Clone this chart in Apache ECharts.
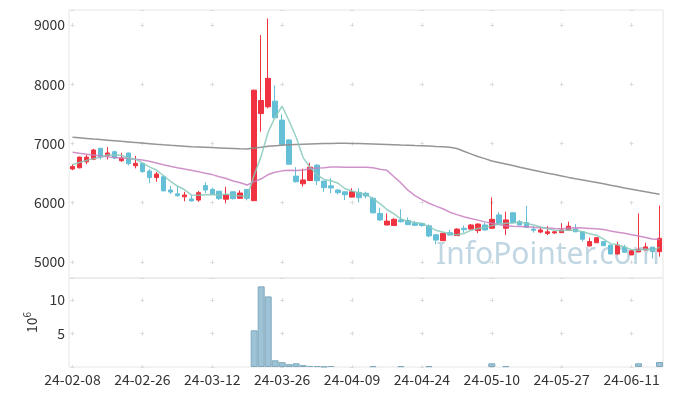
<!DOCTYPE html>
<html><head><meta charset="utf-8">
<script src="https://cdn.jsdelivr.net/npm/echarts@6/dist/echarts.min.js"></script>
<style>html,body{margin:0;padding:0;background:#fff}#c{width:673px;height:396px}</style>
</head><body><div id="c"></div><script>
const dates = ["24-02-08","24-02-13","24-02-14","24-02-15","24-02-16","24-02-19","24-02-20","24-02-21","24-02-22","24-02-23","24-02-26","24-02-27","24-02-28","24-02-29",
"24-03-04","24-03-05","24-03-06","24-03-07","24-03-08","24-03-11","24-03-12","24-03-13","24-03-14","24-03-15","24-03-18","24-03-19","24-03-20","24-03-21","24-03-22","24-03-25","24-03-26","24-03-27","24-03-28","24-03-29",
"24-04-01","24-04-02","24-04-03","24-04-04","24-04-05","24-04-08","24-04-09","24-04-11","24-04-12","24-04-15","24-04-16","24-04-17","24-04-18","24-04-19","24-04-22","24-04-23","24-04-24","24-04-25","24-04-26","24-04-29","24-04-30",
"24-05-02","24-05-03","24-05-07","24-05-08","24-05-09","24-05-10","24-05-13","24-05-14","24-05-16","24-05-17","24-05-20","24-05-21","24-05-22","24-05-23","24-05-24","24-05-27","24-05-28","24-05-29","24-05-30","24-05-31",
"24-06-03","24-06-04","24-06-05","24-06-07","24-06-10","24-06-11","24-06-12","24-06-13","24-06-14","24-06-17"];
const opens  = [6570,6590,6690,6735,6920,6795,6860,6710,6840,6625,6665,6535,6425,6440,6215,6150,6100,6065,6045,6290,6225,6195,6060,6185,6075,6225,6035,7505,7620,7715,7395,7060,6450,6320,6375,6635,6365,6285,6215,6185,6095,6175,6160,6075,5820,5625,5615,5710,5700,5655,5650,5610,5460,5360,5495,5445,5570,5555,5530,5625,5570,5795,5570,5830,5680,5665,5555,5505,5480,5490,5495,5535,5555,5510,5270,5325,5345,5285,5135,5250,5120,5170,5205,5250,5175];
const closes = [6610,6770,6770,6890,6770,6840,6755,6755,6660,6665,6525,6425,6485,6200,6180,6120,6130,6030,6170,6215,6145,6070,6130,6070,6165,6075,7900,7725,8100,7435,6985,6650,6355,6385,6600,6370,6255,6250,6170,6135,6185,6085,6115,5830,5710,5690,5720,5680,5630,5620,5615,5440,5370,5485,5455,5555,5545,5625,5640,5540,5720,5655,5710,5665,5625,5585,5535,5540,5510,5510,5540,5605,5510,5385,5345,5410,5275,5135,5285,5165,5190,5215,5255,5175,5400];
const lows   = [6550,6580,6650,6720,6730,6730,6735,6690,6630,6580,6505,6330,6355,6200,6145,6100,6025,6025,6015,6160,6130,6045,5990,6055,6065,6040,6030,7200,7595,7435,6980,6650,6340,6270,6370,6300,6185,6160,6140,6045,6090,6005,6075,5820,5690,5620,5610,5665,5625,5605,5595,5415,5300,5355,5450,5440,5495,5550,5485,5535,5560,5650,5455,5660,5620,5580,5495,5485,5455,5475,5490,5530,5505,5345,5265,5320,5270,5130,5130,5160,5115,5165,5200,5060,5090];
const highs  = [6650,6780,6810,6910,6925,6940,6880,6845,6845,6790,6670,6570,6520,6470,6285,6270,6185,6125,6200,6345,6255,6200,6270,6190,6210,6230,7910,8830,9110,7980,7490,7070,6600,6575,6675,6645,6370,6415,6230,6190,6245,6245,6185,6100,5915,5820,5740,5890,5750,5690,5660,5635,5465,5490,5540,5570,5615,5640,5655,5660,6090,5840,5850,5840,5710,5945,5605,5595,5605,5530,5655,5680,5640,5515,5410,5420,5350,5290,5340,5290,5200,5820,5325,5255,5950];
const volumes = [0,0,0,0,0,0,0,0,0,0,0,0,0,0,0,0,0,0,0,0,0,0,0,0,0,0,5.48,12.05,10.55,1.0,0.72,0.42,0.55,0.28,0.15,0.14,0.06,0.15,0,0,0,0,0,0.12,0,0,0,0.12,0,0,0,0.12,0,0,0,0,0,0,0,0,0.55,0,0.12,0,0,0,0,0,0,0,0,0,0,0,0,0,0,0,0,0,0,0.55,0,0,0.75];
const ma5 = [6640,6680,6715,6745,6762,6808,6805,6802,6756,6735,6672,6606,6552,6460,6363,6282,6223,6132,6126,6133,6138,6126,6146,6126,6116,6102,6468,6787,7193,7447,7629,7379,7105,6762,6595,6472,6393,6372,6329,6236,6199,6165,6138,6070,5985,5886,5813,5726,5686,5668,5653,5597,5535,5506,5473,5461,5482,5533,5564,5581,5614,5636,5653,5658,5675,5648,5624,5590,5559,5536,5527,5541,5535,5510,5477,5451,5385,5310,5290,5253,5209,5197,5221,5199,5246];
const ma20 = [6851,6835,6820,6805,6789,6775,6765,6755,6745,6735,6722,6700,6670,6640,6615,6592,6570,6550,6525,6498,6475,6440,6408,6367,6337,6299,6356,6404,6476,6515,6538,6549,6543,6552,6573,6585,6592,6603,6603,6599,6601,6601,6601,6589,6566,6547,6438,6335,6212,6121,6053,5992,5943,5898,5841,5800,5764,5733,5707,5677,5654,5632,5612,5604,5599,5594,5585,5578,5572,5566,5563,5571,5578,5573,5567,5560,5547,5522,5504,5486,5459,5437,5414,5390,5379];
const ma120 = [7105,7095,7085,7075,7066,7056,7046,7036,7027,7017,7007,6997,6987,6978,6970,6963,6955,6946,6941,6936,6931,6926,6921,6916,6911,6907,6922,6936,6952,6963,6970,6977,6983,6988,6993,6997,7000,7002,7003,7003,7002,7000,6997,6993,6988,6983,6978,6973,6969,6965,6962,6958,6950,6945,6935,6915,6870,6825,6780,6745,6705,6680,6655,6630,6600,6575,6548,6522,6497,6475,6452,6428,6405,6385,6363,6342,6320,6296,6273,6250,6228,6205,6185,6163,6142];

const candles = opens.map((o,i)=>[o, closes[i], lows[i], highs[i]]);
const volData = volumes.map(v => v > 0 ? v : '-');
const UP='#ef3340', DOWN='#65bfd7';
const crossH = {color:'#dcdcdc', width:1, type:[4,65.88], dashOffset:68.4};
const lbl = {color:'#333', fontSize:14, fontFamily:'Noto Sans CJK KR'};
const chart = echarts.init(document.getElementById('c'), null, {renderer:'canvas'});
chart.setOption({
  animation:false,
  backgroundColor:'#fff',
  grid:[
    {left:69, right:10, top:10, height:268, show:true, borderColor:'#e6e6e6', borderWidth:1},
    {left:69, right:10, top:278, height:89, show:true, borderColor:'#e6e6e6', borderWidth:1}
  ],
  graphic:[{type:'text', left:436, top:240, z:0,
    style:{text:'InfoPointer.com', font:'30px "Noto Sans"', fill:'rgba(140,180,203,0.55)'}}],
  xAxis:[
    {type:'category', gridIndex:0, data:dates, boundaryGap:true,
     axisLine:{show:false}, axisTick:{show:false}, axisLabel:{show:false},
     splitLine:{show:true, interval:9, alignWithLabel:true, lineStyle:{color:'#dcdcdc', width:1, type:[4,55.25], dashOffset:46.25}}},
    {type:'category', gridIndex:1, data:dates, boundaryGap:true,
     axisLine:{show:false}, axisTick:{show:false},
     axisLabel:Object.assign({interval:9, margin:6}, lbl),
     splitLine:{show:true, interval:9, alignWithLabel:true, lineStyle:{color:'#dcdcdc', width:1, type:[4,29.46], dashOffset:13.46}}}
  ],
  yAxis:[
    {type:'value', gridIndex:0, min:4730, max:9253, scale:true,
     axisLine:{show:false}, axisTick:{show:false},
     axisLabel:Object.assign({margin:4, showMinLabel:false, showMaxLabel:false, formatter:v=>String(v)}, lbl),
     splitLine:{show:true, lineStyle:crossH}},
    {type:'value', gridIndex:1, min:0, max:13.3, interval:5,
     name:'{a|10}{b|6}', nameLocation:'middle', nameGap:22, nameRotate:90,
     nameTextStyle:{rich:{a:{fontSize:14, color:'#333', fontFamily:'Noto Sans CJK KR'}, b:{fontSize:10, color:'#333', fontFamily:'Noto Sans CJK KR', verticalAlign:'top', padding:[0,0,8,0]}}},
     axisLine:{show:false}, axisTick:{show:false},
     axisLabel:Object.assign({margin:4, showMinLabel:false, showMaxLabel:false, formatter:v=>String(v)}, lbl),
     splitLine:{show:true, lineStyle:crossH}}
  ],
  series:[
    {type:'candlestick', xAxisIndex:0, yAxisIndex:0, data:candles, barWidth:5,
     itemStyle:{color:UP, color0:DOWN, borderColor:UP, borderColor0:DOWN, borderWidth:1}},
    {type:'line', xAxisIndex:0, yAxisIndex:0, data:ma120, showSymbol:false, symbol:'none',
     lineStyle:{color:'#8a8a8a', width:1.5, opacity:0.9}},
    {type:'line', xAxisIndex:0, yAxisIndex:0, data:ma20, showSymbol:false, symbol:'none',
     lineStyle:{color:'#c77fbf', width:1.5, opacity:0.85}},
    {type:'line', xAxisIndex:0, yAxisIndex:0, data:ma5, showSymbol:false, symbol:'none',
     lineStyle:{color:'#86c9bb', width:1.5, opacity:0.85}},
    {type:'bar', xAxisIndex:1, yAxisIndex:1, data:volData, barWidth:'100%',
     itemStyle:{color:'rgba(125,175,200,0.75)', borderColor:'#7ea8bd', borderWidth:1}}
  ]
});
</script></body></html>
